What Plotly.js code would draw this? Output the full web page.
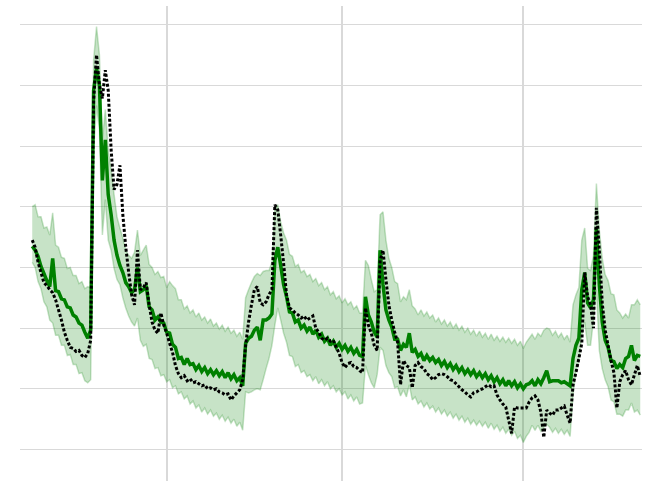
<!DOCTYPE html>
<html>
<head>
<meta charset="utf-8">
<script src="https://cdn.plot.ly/plotly-3.0.1.min.js"></script>
<style>
  html, body { margin: 0; padding: 0; background: #fff; }
  #chart { width: 646px; height: 481px; }
</style>
</head>
<body>
<div id="chart"></div>
<script>
// Samples are taken every half day; day 0 is the first month boundary.
const START_DAY = -23;
const STEP_DAYS = 0.5;

// Model forecast (yhat)
const forecast = [
  201,197,191,181,174,167,161,189,157,156,149,148,141,140,133,131,125,123,116,110,
  118,355,377,360,266,306,252,232,207,192,182,175,165,161,155,158,180,156,158,162,
  141,138,128,131,126,125,116,115,104,101,90,91,84,90,84,85,79,83,77,81,
  75,79,74,78,73,77,71,76,70,74,68,71,63,105,110,112,118,121,108,128,
  128,130,134,187,200,182,163,151,136,135,126,128,120,123,117,121,114,118,111,114,
  107,110,103,107,101,105,99,103,97,101,95,99,93,92,151,133,126,116,111,197,
  163,138,128,121,109,109,98,104,101,115,96,99,92,95,88,93,88,91,86,89,
  83,87,81,85,79,83,77,81,75,79,74,78,72,76,71,75,69,73,67,71,
  65,69,63,68,63,67,61,65,60,64,65,68,63,69,65,71,78,67,68,68,
  68,66,67,65,63,90,103,110,158,175,145,140,148,219,163,126,108,101,88,87,
  80,84,81,90,92,103,88,93,92
];

// Upper edge of the uncertainty interval
const upperBound = [
  240,242,230,230,219,220,212,234,202,200,190,189,179,180,172,172,164,166,159,161,
  160,385,418,390,306,336,296,276,252,230,219,209,197,192,189,195,217,192,197,202,
  183,180,173,176,170,171,160,166,162,159,148,148,139,142,135,138,131,135,128,131,
  125,129,122,125,119,123,117,121,115,118,112,116,109,150,158,165,171,174,172,176,
  177,177,185,237,242,225,214,207,193,191,181,183,175,177,171,173,166,169,162,165,
  158,161,153,156,149,152,145,149,143,146,139,142,135,135,187,182,168,156,158,232,
  235,207,189,180,166,164,146,151,148,158,142,139,133,138,132,136,130,133,126,130,
  124,128,122,126,120,124,118,122,116,120,114,118,112,117,111,115,109,114,108,112,
  107,111,106,110,105,109,103,107,100,106,110,114,109,115,112,118,120,119,113,117,
  111,115,109,113,106,143,153,160,207,219,179,177,192,263,217,189,173,167,154,153,
  138,135,130,134,130,143,143,148,143
];

// Lower edge of the uncertainty interval
const lowerBound = [
  185,180,166,159,146,141,128,125,113,113,103,103,93,94,84,84,75,76,68,66,
  69,296,340,316,212,247,207,197,179,168,163,150,140,132,126,122,130,108,102,104,
  90,89,80,81,73,74,67,69,61,63,55,57,50,53,45,48,41,44,37,41,
  35,39,33,36,30,34,28,32,26,30,23,27,19,57,56,57,59,60,59,69,
  80,90,103,123,140,128,115,106,93,92,82,84,76,78,72,74,68,72,65,69,
  63,67,60,63,57,60,54,57,50,54,48,52,45,46,83,74,66,61,74,101,
  98,83,76,72,61,62,53,59,52,64,49,52,45,48,42,46,40,43,37,41,
  35,39,33,37,31,35,29,33,27,31,25,29,24,28,23,27,21,26,20,24,
  18,22,16,20,14,18,11,14,7,13,17,24,19,24,18,22,25,22,17,21,
  16,20,15,19,13,54,76,88,113,126,103,103,128,158,98,80,69,62,49,47,
  35,35,33,39,39,46,37,39,34
];

// Observed values
const observed = [
  207,200,185,175,165,162,158,155,148,138,128,116,108,101,100,97,98,93,91,95,
  108,345,390,360,347,375,355,296,257,262,281,232,200,175,153,143,197,158,160,165,
  143,126,118,115,135,123,115,105,96,83,75,71,73,68,70,66,67,65,63,64,
  60,61,59,60,57,56,54,55,49,53,56,59,69,103,126,143,158,161,145,143,
  146,153,158,242,237,212,184,153,140,138,135,133,130,132,128,130,132,120,116,110,
  108,110,107,108,101,95,86,81,85,86,82,81,78,76,140,123,115,103,98,187,
  197,168,143,128,116,106,64,88,83,81,61,83,86,82,80,75,73,69,71,74,
  75,74,72,69,68,65,62,59,57,54,52,56,57,59,60,62,64,62,63,54,
  49,45,42,29,16,42,41,41,41,41,47,51,53,49,37,12,39,36,34,39,
  39,41,43,34,26,64,76,90,105,175,151,143,120,239,197,145,118,103,88,76,
  41,67,74,78,69,64,74,83,72
];

// Month boundaries used for the vertical grid
const monthStarts = [0, 30, 61];

const days = forecast.map((_, i) => START_DAY + i * STEP_DAYS);

const bandLine = { color: 'rgba(0,128,0,0.22)', width: 1.5, simplify: false };

const traces = [
  {
    x: days, y: upperBound, type: 'scatter', mode: 'lines',
    line: bandLine, hoverinfo: 'skip', showlegend: false
  },
  {
    x: days, y: lowerBound, type: 'scatter', mode: 'lines',
    line: bandLine, fill: 'tonexty', fillcolor: 'rgba(0,128,0,0.22)',
    hoverinfo: 'skip', showlegend: false
  },
  {
    x: days, y: forecast, type: 'scatter', mode: 'lines',
    line: { color: '#008000', width: 3.5, simplify: false }, showlegend: false
  },
  {
    x: days, y: observed, type: 'scatter', mode: 'lines',
    line: { color: '#000000', width: 3, dash: '3px,2px', simplify: false }, showlegend: false
  }
];

const layout = {
  width: 646,
  height: 481,
  margin: { l: 20, r: 4, t: 6, b: 0, pad: 0 },
  paper_bgcolor: '#ffffff',
  plot_bgcolor: '#ffffff',
  showlegend: false,
  xaxis: {
    range: [-25.09, 81.3],
    tickmode: 'array',
    tickvals: monthStarts,
    showticklabels: false,
    ticks: '',
    showgrid: true,
    gridcolor: '#d9d9d9',
    gridwidth: 2,
    zeroline: false,
    showline: false
  },
  yaxis: {
    range: [-31.1, 438.4],
    tick0: 0,
    dtick: 60,
    showticklabels: false,
    ticks: '',
    showgrid: true,
    gridcolor: '#d9d9d9',
    gridwidth: 1,
    zeroline: false,
    showline: false
  }
};

Plotly.newPlot('chart', traces, layout, { staticPlot: true, displayModeBar: false });
</script>
</body>
</html>
